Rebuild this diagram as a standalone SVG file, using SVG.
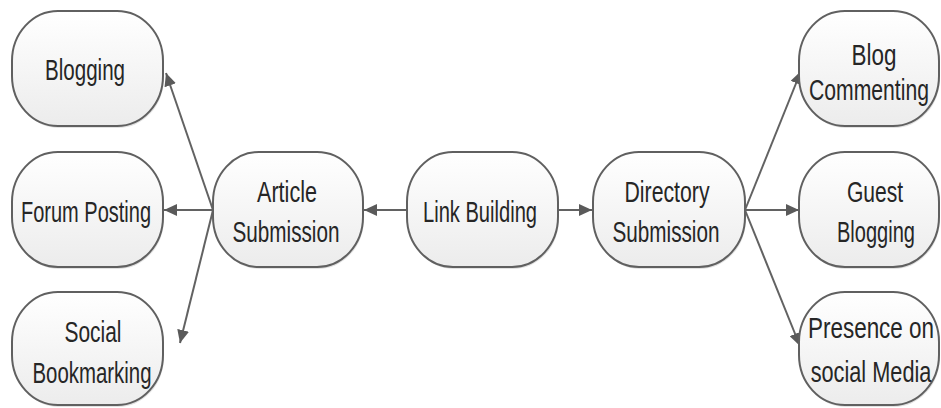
<svg xmlns="http://www.w3.org/2000/svg" width="941" height="408" viewBox="0 0 941 408">
  <defs>
    <linearGradient id="nodeFill" x1="0" y1="0" x2="0" y2="1">
      <stop offset="0" stop-color="#ffffff"/>
      <stop offset="1" stop-color="#ececec"/>
    </linearGradient>
    <marker id="arrow" viewBox="0 0 13 12" refX="13" refY="6" markerWidth="13" markerHeight="12" markerUnits="userSpaceOnUse" orient="auto">
      <path d="M0,0 L13,6 L0,12 z" fill="#5a5a5a"/>
    </marker>
  </defs>
  <style>
    .box { fill: url(#nodeFill); stroke: #606060; stroke-width: 2; }
    .shadow { fill: #e2e2e2; stroke: none; }
    .lbl { font-family: "Liberation Sans", Arial, sans-serif; font-size: 29px; fill: #262626; text-anchor: middle; }
    .edge { stroke: #626262; stroke-width: 2; fill: none; marker-end: url(#arrow); }
  </style>
  <rect width="941" height="408" fill="#ffffff"/>

  <g id="connectors">
    <line class="edge" x1="407" y1="210" x2="364" y2="210"/>
    <line class="edge" x1="558" y1="210" x2="592" y2="210"/>
    <line class="edge" x1="213" y1="210" x2="166" y2="73"/>
    <line class="edge" x1="213" y1="210" x2="164" y2="210"/>
    <line class="edge" x1="213" y1="210" x2="180" y2="343"/>
    <line class="edge" x1="745" y1="210" x2="801" y2="71"/>
    <line class="edge" x1="745" y1="210" x2="799" y2="210"/>
    <line class="edge" x1="745" y1="210" x2="800" y2="346"/>
  </g>

  <g id="node-blogging">
    <rect class="shadow" x="13" y="13" width="151" height="115" rx="46" ry="50"/>
    <rect class="box" x="12" y="11" width="151" height="115" rx="46" ry="50"/>
    <text class="lbl" x="85" y="80" textLength="80" lengthAdjust="spacingAndGlyphs">Blogging</text>
  </g>

  <g id="node-forum-posting">
    <rect class="shadow" x="13" y="154" width="151" height="115" rx="46" ry="50"/>
    <rect class="box" x="12" y="152" width="151" height="115" rx="46" ry="50"/>
    <text class="lbl" x="86" y="222" textLength="130" lengthAdjust="spacingAndGlyphs">Forum Posting</text>
  </g>

  <g id="node-social-bookmarking">
    <rect class="shadow" x="13" y="294" width="151" height="113" rx="46" ry="50"/>
    <rect class="box" x="12" y="292" width="151" height="113" rx="46" ry="50"/>
    <text class="lbl" x="93" y="342" textLength="57" lengthAdjust="spacingAndGlyphs">Social</text>
    <text class="lbl" x="92" y="383" textLength="119" lengthAdjust="spacingAndGlyphs">Bookmarking</text>
  </g>

  <g id="node-article-submission">
    <rect class="shadow" x="214" y="154" width="150" height="115" rx="46" ry="50"/>
    <rect class="box" x="213" y="152" width="150" height="115" rx="46" ry="50"/>
    <text class="lbl" x="287" y="202" textLength="60" lengthAdjust="spacingAndGlyphs">Article</text>
    <text class="lbl" x="286" y="242" textLength="107" lengthAdjust="spacingAndGlyphs">Submission</text>
  </g>

  <g id="node-link-building">
    <rect class="shadow" x="408" y="154" width="151" height="115" rx="46" ry="50"/>
    <rect class="box" x="407" y="152" width="151" height="115" rx="46" ry="50"/>
    <text class="lbl" x="480" y="222" textLength="114" lengthAdjust="spacingAndGlyphs">Link Building</text>
  </g>

  <g id="node-directory-submission">
    <rect class="shadow" x="594" y="154" width="152" height="115" rx="46" ry="50"/>
    <rect class="box" x="593" y="152" width="152" height="115" rx="46" ry="50"/>
    <text class="lbl" x="667" y="202" textLength="85" lengthAdjust="spacingAndGlyphs">Directory</text>
    <text class="lbl" x="666" y="242" textLength="107" lengthAdjust="spacingAndGlyphs">Submission</text>
  </g>

  <g id="node-blog-commenting">
    <rect class="shadow" x="800" y="13" width="140" height="115" rx="46" ry="50"/>
    <rect class="box" x="799" y="11" width="140" height="115" rx="46" ry="50"/>
    <text class="lbl" transform="translate(874 65) scale(0.75 1)" x="0" y="0" textLength="60" lengthAdjust="spacingAndGlyphs">Blog</text>
    <text class="lbl" transform="translate(869 100) scale(0.75 1)" x="0" y="0" textLength="160" lengthAdjust="spacingAndGlyphs">Commenting</text>
  </g>

  <g id="node-guest-blogging">
    <rect class="shadow" x="800" y="154" width="140" height="115" rx="46" ry="50"/>
    <rect class="box" x="799" y="152" width="140" height="115" rx="46" ry="50"/>
    <text class="lbl" transform="translate(875 202) scale(0.75 1)" x="0" y="0" textLength="75" lengthAdjust="spacingAndGlyphs">Guest</text>
    <text class="lbl" transform="translate(876 242) scale(0.75 1)" x="0" y="0" textLength="104" lengthAdjust="spacingAndGlyphs">Blogging</text>
  </g>

  <g id="node-presence-social-media">
    <rect class="shadow" x="800" y="294" width="140" height="113" rx="46" ry="50"/>
    <rect class="box" x="799" y="292" width="140" height="113" rx="46" ry="50"/>
    <text class="lbl" transform="translate(871 338) scale(0.75 1)" x="0" y="0" textLength="168" lengthAdjust="spacingAndGlyphs">Presence on</text>
    <text class="lbl" transform="translate(871 382) scale(0.75 1)" x="0" y="0" textLength="161" lengthAdjust="spacingAndGlyphs">social Media</text>
  </g>
</svg>
